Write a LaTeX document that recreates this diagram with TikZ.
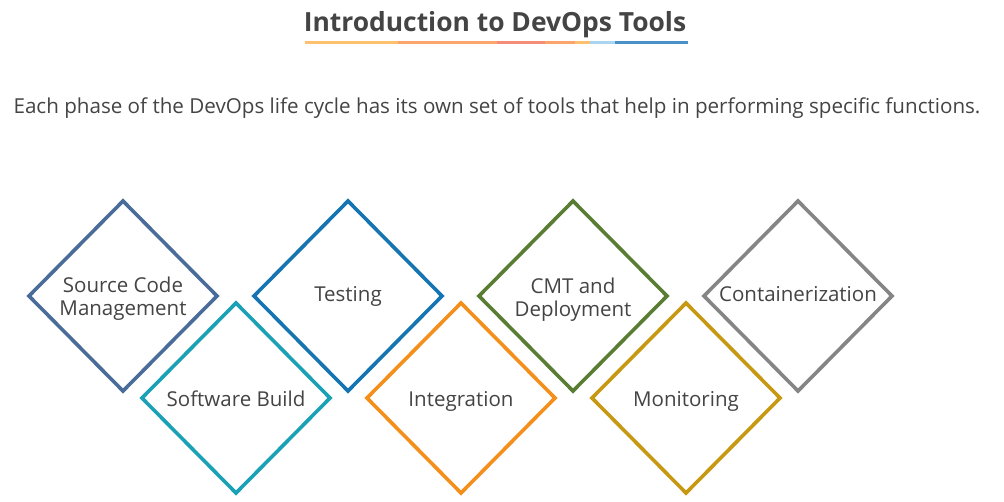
\documentclass[tikz,border=0pt]{standalone}
\usepackage{fontspec}
\setmainfont{Open Sans}
\definecolor{txt}{HTML}{444444}
\definecolor{cscm}{HTML}{4A6C9B}
\definecolor{cbuild}{HTML}{1BA1B6}
\definecolor{ctest}{HTML}{1575B3}
\definecolor{cint}{HTML}{F58F1C}
\definecolor{ccmt}{HTML}{5A7D34}
\definecolor{cmon}{HTML}{C79812}
\definecolor{ccont}{HTML}{858585}
\definecolor{u1}{HTML}{FDC06E}
\definecolor{u2}{HTML}{FBA56C}
\definecolor{u3}{HTML}{F48C78}
\definecolor{u4}{HTML}{A9D5EF}
\definecolor{u5}{HTML}{4A90C9}
\tikzset{
  lbl/.style={text=txt, font=\fontsize{20.5}{23}\selectfont, align=center, inner sep=0pt},
  dm/.style={line width=3.6pt, line join=miter},
  ul/.style={line width=3pt},
}
\begin{document}
\begin{tikzpicture}[x=1pt,y=-1pt]
\useasboundingbox (0,0) rectangle (1004,502);
\fill[white] (0,0) rectangle (1004,502);
% title
\node[text=txt, font=\bfseries\fontsize{26.4}{32}\selectfont, anchor=base, inner sep=0pt] (title) at (495,31.5) {Introduction to DevOps Tools};
\coordinate (ua) at (305,43);
\draw[ul,u1] (ua) -- (398,43);
\draw[ul,u2] (398,43) -- (497,43);
\draw[ul,u3] (497,43) -- (545,43);
\draw[ul,u2] (545,43) -- (575,43);
\draw[ul,u1] (575,43) -- (590,43);
\draw[ul,u4] (590,43) -- (615,43);
\draw[ul,u5] (615,43) -- (688,43);
% subtitle
\node[text=txt, font=\fontsize{20.6}{24}\selectfont, anchor=base, inner sep=0pt] (sub) at (497,114) {Each phase of the DevOps life cycle has its own set of tools that help in performing specific functions.};
% diamonds
\node[lbl] (scm) at (123,299) {\strut Source Code\\\strut Management};
\node[lbl] (test) at (348,297) {\strut Testing};
\node[lbl] (cmt) at (573,300) {\strut CMT and\\\strut Deployment};
\node[lbl] (cont) at (798,297) {\strut Containerization};
\node[lbl] (build) at (236,401.5) {\strut Software Build};
\node[lbl] (integ) at (461,401.5) {\strut Integration};
\node[lbl] (mon) at (686,401.5) {\strut Monitoring};
\foreach \n/\c/\x/\y in {scm/cscm/123/296, test/ctest/348/296, cmt/ccmt/573/296, cont/ccont/798/296, build/cbuild/236/398, integ/cint/461/398, mon/cmon/686/398}{
  \draw[dm,\c] (\x,\y) ++(0,-95) -- ++(94,95) -- ++(-94,95) -- ++(-94,-95) -- cycle;
}
\end{tikzpicture}
\end{document}
